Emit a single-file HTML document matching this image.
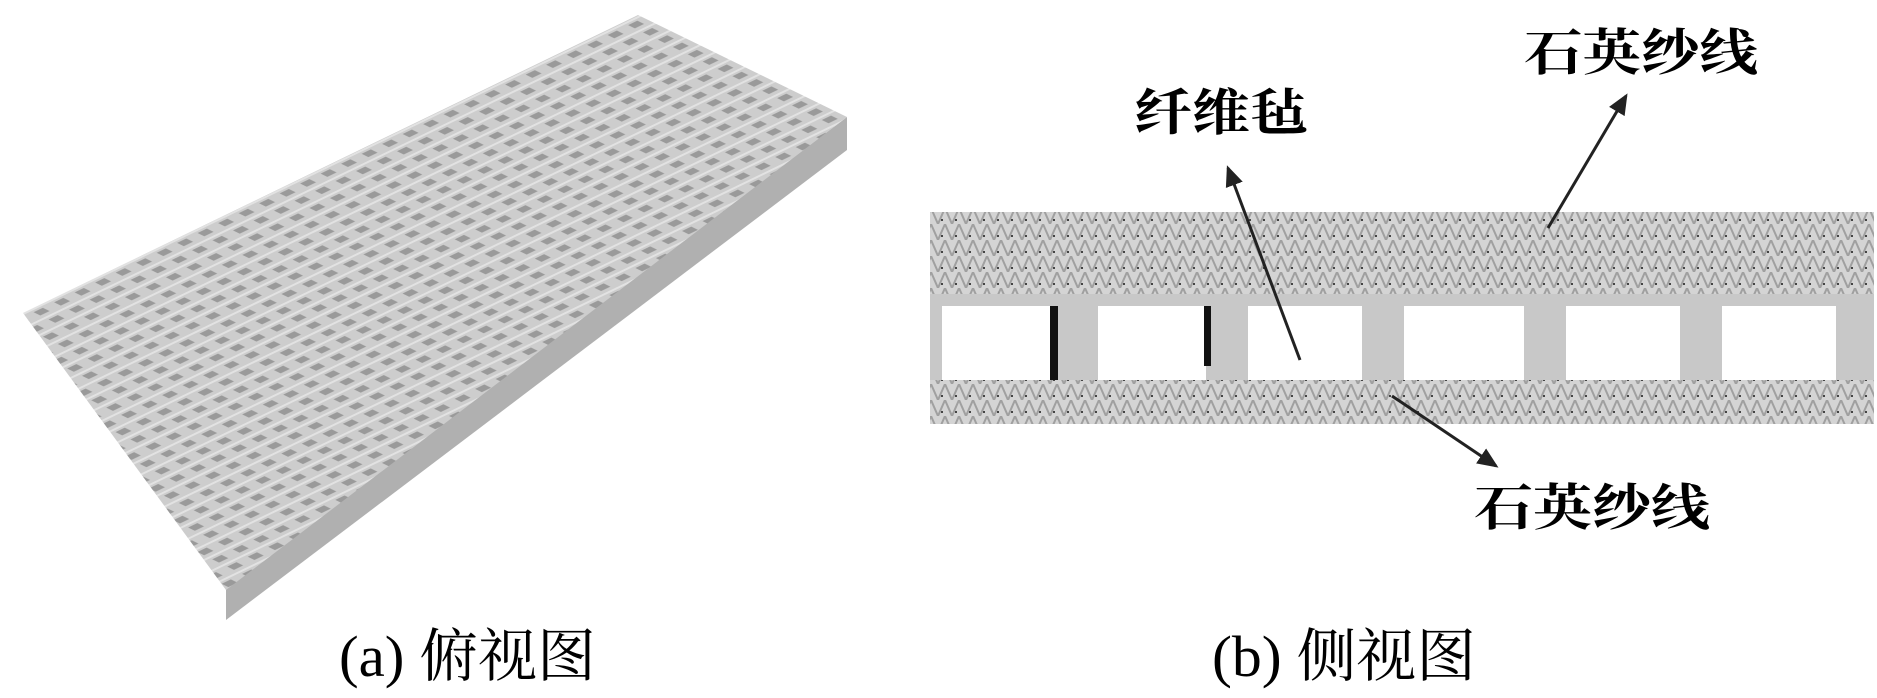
<!DOCTYPE html>
<html><head><meta charset="utf-8"><style>
html,body{margin:0;padding:0;background:#fff;width:1877px;height:698px;overflow:hidden}
.t{font-family:"Liberation Serif","Noto Serif CJK SC","Noto Sans CJK SC",serif;fill:#000;font-weight:bold}
.c{font-family:"Liberation Serif","Noto Serif CJK SC","Noto Sans CJK SC",serif;fill:#000}
</style></head><body>
<svg width="1877" height="698" viewBox="0 0 1877 698" xmlns="http://www.w3.org/2000/svg">
<defs>
<pattern id="mesh" patternUnits="userSpaceOnUse" width="1" height="1" patternTransform="matrix(20.5,-9.9,14.9,7.3,23,313)">
<rect width="1" height="1" fill="#cdcdcd"/>
<rect x="0.3" y="0.3" width="0.45" height="0.45" fill="#9a9a9a"/>
<rect x="0" y="0" width="1" height="0.15" fill="#e2e2e2"/>
</pattern>
<pattern id="weave" patternUnits="userSpaceOnUse" width="14" height="16">
<rect width="14" height="16" fill="#d4d4d4"/>
<path d="M0 16 L7 0 L14 16" stroke="#a0a0a0" stroke-width="2" fill="none"/>
<path d="M3 12 l2 0" stroke="#444" stroke-width="2"/>
</pattern>
<marker id="ah" markerWidth="8" markerHeight="8" refX="6" refY="4" orient="auto" markerUnits="strokeWidth">
<path d="M0 1 L7 4 L0 7z" fill="#222"/>
</marker>
</defs>
<!-- left panel -->
<polygon points="226,585 847,117 847,150 226,620" fill="#b0b0b0"/>
<polygon points="23,313 638,15 847,117 226,590" fill="url(#mesh)"/>
<!-- right panel -->
<rect x="930" y="212" width="944" height="86" fill="url(#weave)"/>
<rect x="930" y="294" width="944" height="90" fill="#c8c8c8"/>
<g fill="#fff">
<rect x="942" y="306" width="112" height="80"/>
<rect x="1098" y="306" width="108" height="80"/>
<rect x="1248" y="306" width="114" height="80"/>
<rect x="1404" y="306" width="120" height="80"/>
<rect x="1566" y="306" width="114" height="80"/>
<rect x="1722" y="306" width="114" height="80"/>
</g>
<rect x="1050" y="306" width="8" height="78" fill="#111"/>
<rect x="1204" y="306" width="7" height="60" fill="#111"/>
<rect x="930" y="380" width="944" height="44" fill="url(#weave)"/>
<!-- arrows -->
<line x1="1300" y1="360" x2="1228" y2="168" stroke="#222" stroke-width="3" marker-end="url(#ah)"/>
<line x1="1548" y1="228" x2="1626" y2="96" stroke="#222" stroke-width="3" marker-end="url(#ah)"/>
<line x1="1392" y1="396" x2="1496" y2="466" stroke="#222" stroke-width="3" marker-end="url(#ah)"/>
<!-- labels -->
<text class="t" x="1134" y="130" font-size="50" textLength="174" lengthAdjust="spacingAndGlyphs">纤维毡</text>
<text class="t" x="1524" y="70" font-size="50" textLength="234" lengthAdjust="spacingAndGlyphs">石英纱线</text>
<text class="t" x="1474" y="525" font-size="50" textLength="236" lengthAdjust="spacingAndGlyphs">石英纱线</text>
<text class="c" x="339" y="676" font-size="58" textLength="257" lengthAdjust="spacingAndGlyphs">(a) 俯视图</text>
<text class="c" x="1212" y="676" font-size="58" textLength="264" lengthAdjust="spacingAndGlyphs">(b) 侧视图</text>
</svg>
</body></html>
